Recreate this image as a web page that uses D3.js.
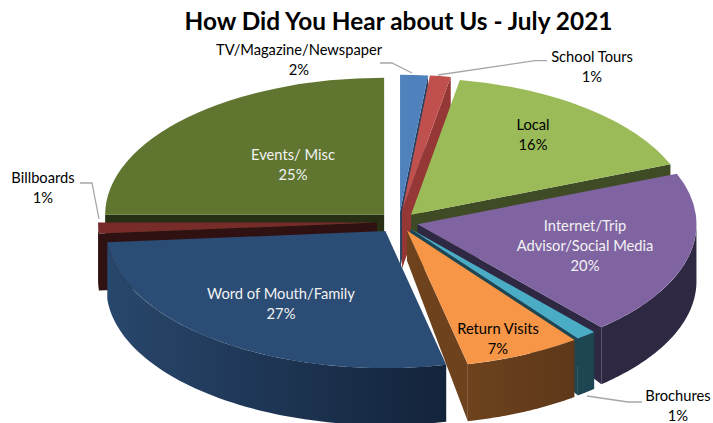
<!DOCTYPE html>
<html><head><meta charset="utf-8">
<style>html,body{margin:0;padding:0;background:#fff}svg{display:block}text{font-family:Lato,"Open Sans",sans-serif}</style>
<script src="https://cdn.jsdelivr.net/npm/d3@7/dist/d3.min.js"></script>
</head><body><svg id="c" width="713" height="423"></svg>
<script>
const categories = ["TV/Magazine/Newspaper","School Tours","Local","Internet/Trip Advisor/Social Media","Brochures","Return Visits","Word of Mouth/Family","Billboards","Events/ Misc"];
const values = [1.6,1.2,16.2,19.55,1.2,6.75,27.2,1.3,25];
const titleText = "How Did You Hear about Us - July 2021";

const topColors  = ["#4f81bd","#c0504d","#9bbb59","#8064a2","#4bacc6","#f79646","#2b4c74","#772c2a","#5f7530"];
const wallLeft   = ["#254061","#953735","#3e4b24","#2f2843","#1e4652","#6d421d","#28476c","#2e1110","#262f13"];
const wallRight  = ["#254061","#953735","#3e4b24","#2f2843","#1e4652","#5e381a","#13233a","#2e1110","#262f13"];
const explode    = [21,21,19,19,18,19,23,22,21];
const apexDepth  = [57,57,57,20,20,30,57,57,57];
const paintOrder = [8,0,1,2,3,4,7,6,5];
const labelLines = [["TV/Magazine/Newspaper"],["School Tours"],["Local"],["Internet/Trip","Advisor/Social Media"],["Brochures"],["Return Visits"],["Word of Mouth/Family"],["Billboards"],["Events/ Misc"]];
const labelPos   = [[299,50],[592,57],[533,125],[585,226],[678,396],[498,329],[281,294],[43,178],[293,155]];
const labelFill  = ["#000","#000","#000","#f2f2f2","#000","#000","#f2f2f2","#000","#f2f2f2"];
const leaders = [
  [[380,63],[392,63],[412,73]],
  [[547,60.7],[535,60.7],[438,75]],
  [[80,183],[92,183],[99,219]],
  [[642,402],[628,402],[587,396]]
];

const W=713,H=423,cx=399,cy=222,rx=279,ry=137,depth=57;
const ratio=ry/rx;
const svg=d3.select("#c");
const defs=svg.append("defs");

const pie=d3.pie().sort(null).startAngle(0).endAngle(2*Math.PI);
const arcs=pie(values);
const arcGen=d3.arc().innerRadius(0).outerRadius(rx);
const line=d3.line();

svg.append("clipPath").attr("id","page").append("rect").attr("width",W).attr("height",H);

const chart=svg.append("g").attr("clip-path","url(#page)");

function apex(a,i){
  const m=(a.startAngle+a.endAngle)/2;
  return [cx+explode[i]*Math.sin(m), cy-explode[i]*ratio*Math.cos(m)];
}
function rim(ax,ay,t,d){ return [ax+rx*Math.sin(t), ay-ry*Math.cos(t)+d]; }

paintOrder.forEach(i=>{
  const a=arcs[i]; const [ax,ay]=apex(a,i);
  const g=chart.append("g").attr("class","slice");
  const s=Math.sin(a.startAngle), e=Math.sin(a.endAngle);
  if(s<0){
    g.append("path").attr("fill",wallLeft[i])
     .attr("d",line([[ax,ay],rim(ax,ay,a.startAngle,0),rim(ax,ay,a.startAngle,depth),[ax,ay+apexDepth[i]]])+"Z");
  }
  if(e>0){
    g.append("path").attr("fill",wallLeft[i])
     .attr("d",line([[ax,ay],rim(ax,ay,a.endAngle,0),rim(ax,ay,a.endAngle,depth),[ax,ay+apexDepth[i]]])+"Z");
  }
  const t0=Math.max(a.startAngle,Math.PI/2), t1=Math.min(a.endAngle,Math.PI*1.5);
  if(t1>t0){
    const ts=d3.range(0,61).map(k=>t0+(t1-t0)*k/60);
    const top=ts.map(t=>rim(ax,ay,t,0));
    const bot=ts.slice().reverse().map(t=>rim(ax,ay,t,depth));
    const gid="wall"+i;
    const lg=defs.append("linearGradient").attr("id",gid).attr("gradientUnits","userSpaceOnUse")
      .attr("x1",d3.min(top,p=>p[0])).attr("x2",d3.max(top,p=>p[0])).attr("y1",0).attr("y2",0);
    lg.append("stop").attr("offset",0).attr("stop-color",wallLeft[i]);
    lg.append("stop").attr("offset",1).attr("stop-color",wallRight[i]);
    g.append("path").attr("fill",`url(#${gid})`).attr("d",line(top.concat(bot))+"Z");
  }
  g.append("path").attr("fill",topColors[i])
   .attr("transform",`translate(${ax},${ay}) scale(1,${ratio})`)
   .attr("d",arcGen(a));
});

svg.append("g").selectAll("path").data(leaders).join("path")
  .attr("d",d=>line(d)).attr("fill","none").attr("stroke","#a6a6a6").attr("stroke-width",1.3);

const lab=svg.append("g").attr("font-size",14.7).attr("text-anchor","middle");
categories.forEach((c,i)=>{
  const lines=labelLines[i].concat([Math.round(values[i])+"%"]);
  const t=lab.append("text").attr("fill",labelFill[i]);
  lines.forEach((l,k)=>t.append("tspan").attr("x",labelPos[i][0]).attr("y",labelPos[i][1]+5+k*20).text(l));
});

svg.append("text").attr("x",398.5).attr("y",30).attr("text-anchor","middle")
  .attr("font-size",24.4).attr("font-weight",700).attr("fill","#000").text(titleText);
</script></body></html>
